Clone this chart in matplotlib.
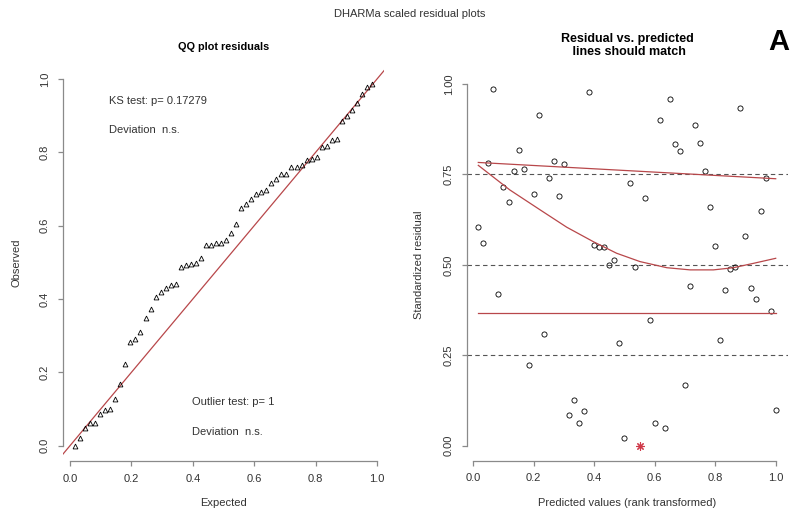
"""DHARMa scaled residual plots: QQ plot and residual vs. predicted panel."""
import matplotlib.pyplot as plt
import numpy as np

plt.rcParams["font.family"] = ["Liberation Sans", "DejaVu Sans"]

# scaled residuals, ordered by rank of the predicted value
residuals = [
    0.605, 0.561, 0.782, 0.985, 0.418, 0.715, 0.673, 0.759, 0.818, 0.766,
    0.222, 0.696, 0.915, 0.310, 0.741, 0.787, 0.691, 0.780, 0.085, 0.126,
    0.062, 0.097, 0.978, 0.554, 0.548, 0.548, 0.499, 0.513, 0.283, 0.021,
    0.726, 0.495, 0.000, 0.686, 0.348, 0.062, 0.900, 0.048, 0.958, 0.833,
    0.815, 0.167, 0.441, 0.886, 0.836, 0.759, 0.660, 0.552, 0.291, 0.431,
    0.488, 0.493, 0.934, 0.579, 0.437, 0.406, 0.649, 0.741, 0.372, 0.099,
]

# quantile regression lines
q75_x = [0.0167, 1.0]
q75_y = [0.783, 0.738]
q50_x = [0.0167, 0.121, 0.221, 0.309, 0.397, 0.474, 0.551, 0.640, 0.717, 0.794, 0.860, 0.926, 1.0]
q50_y = [0.775, 0.707, 0.652, 0.604, 0.564, 0.532, 0.509, 0.492, 0.486, 0.486, 0.492, 0.504, 0.518]
q25_x = [0.0167, 1.0]
q25_y = [0.366, 0.366]

ks_text = "KS test: p= 0.17279"
outlier_text = "Outlier test: p= 1"
dev_text = "Deviation  n.s."

qq_ticks = [0.0, 0.2, 0.4, 0.6, 0.8, 1.0]
res_yticks = [0.0, 0.25, 0.5, 0.75, 1.0]

W, H = 793, 516
TEXT = "#333333"
AXIS = "#8a8a8a"
RED = "#b8474a"

res = np.array(residuals)
n = len(res)
observed = np.sort(res)
expected = np.arange(1, n + 1) / (n + 1)
pred_rank = np.arange(1, n + 1) / n
outlier = (res == 0) | (res == 1)

fig = plt.figure(figsize=(W / 100, H / 100), dpi=100)


def px_axes(x0, x1, y_top, y_bot):
    return fig.add_axes([x0 / W, (H - y_bot) / H, (x1 - x0) / W, (y_bot - y_top) / H])


def style_axes(ax):
    for side in ["top", "right"]:
        ax.spines[side].set_visible(False)
    for side in ["left", "bottom"]:
        ax.spines[side].set_color(AXIS)
        ax.spines[side].set_linewidth(0.9)
        ax.spines[side].set_bounds(0, 1)
    ax.tick_params(direction="out", length=3.8, width=0.9, color=AXIS, labelsize=8, labelcolor=TEXT, pad=5.5)
    ax.set_xticks(qq_ticks)
    ax.set_xticklabels([f"{t:.1f}" for t in qq_ticks])
    for lab in ax.get_yticklabels():
        lab.set_rotation(90)
        lab.set_va("center")


# left: QQ plot
ax1 = px_axes(62.8, 383.8, 64.3, 460.7)
ax1.set_xlim(-0.0235, 1.022)
ax1.set_ylim(-0.041, 1.04)
ax1.plot([-1, 2], [-1, 2], color=RED, lw=0.9)
ax1.plot(expected, observed, linestyle="none", marker="^", ms=3.5, mfc="none", mec="black", mew=0.6)
ax1.set_yticks(qq_ticks)
ax1.set_yticklabels([f"{t:.1f}" for t in qq_ticks])
style_axes(ax1)
ax1.set_xlabel("Expected", fontsize=8, color=TEXT)
ax1.set_ylabel("Observed", fontsize=8, color=TEXT)
ax1.xaxis.set_label_coords(0.5, -0.095)
ax1.yaxis.set_label_coords(-0.130, 0.5)
ax1.set_title("QQ plot residuals", fontsize=7.8, fontweight="bold", pad=10)
ax1.text(0.127, 0.94, ks_text, fontsize=8, color=TEXT, va="center")
ax1.text(0.127, 0.861, dev_text, fontsize=8, color=TEXT, va="center")
ax1.text(0.397, 0.12, outlier_text, fontsize=8, color=TEXT, va="center")
ax1.text(0.397, 0.037, dev_text, fontsize=8, color=TEXT, va="center")

# right: residual vs. predicted
ax2 = px_axes(466.6, 787.5, 69.5, 460.5)
ax2.set_xlim(-0.022, 1.039)
ax2.set_ylim(-0.041, 1.04)
for q in [0.25, 0.5, 0.75]:
    ax2.axhline(q, color="#555555", lw=0.8, linestyle=(0, (4, 3)))
ax2.plot(pred_rank[~outlier], res[~outlier], linestyle="none", marker="o", ms=3.7, mfc="none", mec="black", mew=0.6)
ax2.plot(pred_rank[outlier], res[outlier], linestyle="none", marker=(8, 2, 0), ms=6, mec="#d03a4a", mew=0.8)
ax2.plot(q75_x, q75_y, color=RED, lw=0.9)
ax2.plot(q50_x, q50_y, color=RED, lw=0.9)
ax2.plot(q25_x, q25_y, color=RED, lw=0.9)
ax2.set_yticks(res_yticks)
ax2.set_yticklabels([f"{t:.2f}" for t in res_yticks])
style_axes(ax2)
ax2.set_xlabel("Predicted values (rank transformed)", fontsize=8, color=TEXT)
ax2.set_ylabel("Standardized residual", fontsize=8, color=TEXT)
ax2.xaxis.set_label_coords(0.5, -0.096)
ax2.yaxis.set_label_coords(-0.133, 0.5)

fig.text(627 / W, 1 - 45.5 / H, "Residual vs. predicted\n lines should match", fontsize=9, fontweight="bold",
         ha="center", va="center", linespacing=1.2)
fig.text(410 / W, 1 - 14 / H, "DHARMa scaled residual plots", fontsize=8, color=TEXT, ha="center", va="center")
fig.text(779 / W, 1 - 42 / H, "A", fontsize=21, fontweight="bold", ha="center", va="center")

fig.savefig("out.png", dpi=100)
